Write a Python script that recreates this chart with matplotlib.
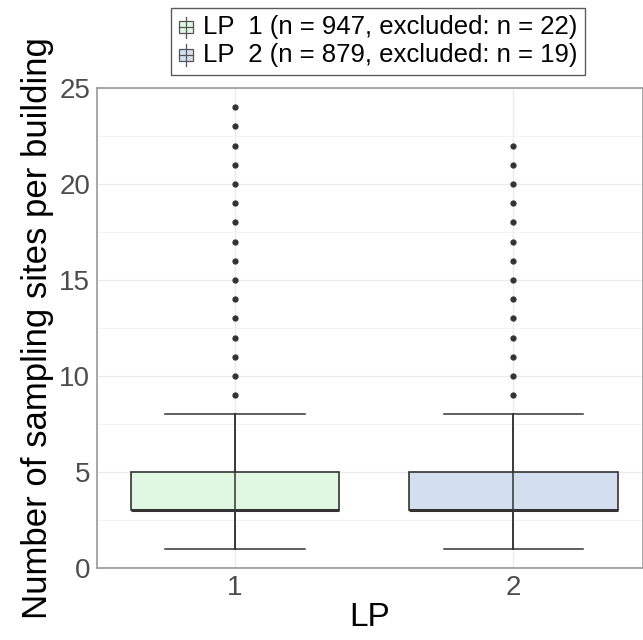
import numpy as np
import matplotlib
matplotlib.use("Agg")
from matplotlib import pyplot as plt
from matplotlib.patches import Patch, Rectangle
from matplotlib.lines import Line2D
from matplotlib.legend_handler import HandlerBase
from matplotlib.ticker import MultipleLocator

# values
groups = ["1", "2"]
legend_labels = ["LP  1 (n = 947, excluded: n = 22)", "LP  2 (n = 879, excluded: n = 19)"]
q1 = [3, 3]
med = [3, 3]
q3 = [5, 5]
whislo = [1, 1]
whishi = [8, 8]
fliers = [list(range(9, 25)), list(range(9, 23))]
fills = ["#e0f8e2", "#d3dfee"]


# small box-plot glyph for the legend keys
class BoxKey(HandlerBase):
    def create_artists(self, legend, orig, xd, yd, w, h, fs, trans):
        cx = xd + w / 2
        box = Rectangle((xd, yd + h * 0.15), w, h * 0.7, facecolor=orig.get_facecolor(),
                        edgecolor="#555555", lw=0.9, transform=trans)
        vl = Line2D([cx, cx], [yd - h * 0.15, yd + h * 1.15], color="#555555", lw=0.9, transform=trans)
        ml = Line2D([xd, xd + w], [yd + h * 0.5, yd + h * 0.5], color="#555555", lw=0.9, transform=trans)
        return [box, vl, ml]


plt.rcParams['font.family'] = ['Liberation Sans', 'DejaVu Sans']

fig = plt.figure(figsize=(6.43, 6.40), dpi=100)
ax = fig.add_axes([0.151, 0.1125, 0.849, 0.75])

stats = []
for i in range(len(groups)):
    stats.append(dict(med=med[i], q1=q1[i], q3=q3[i], whislo=whislo[i], whishi=whishi[i],
                      fliers=fliers[i], label=groups[i]))

pos = np.arange(1, len(groups) + 1)
bp = ax.bxp(stats, positions=pos, widths=0.75, patch_artist=True, showcaps=True,
            boxprops=dict(edgecolor="#333333", linewidth=1.2),
            medianprops=dict(color="#333333", linewidth=2.2),
            whiskerprops=dict(color="#333333", linewidth=1.1),
            capprops=dict(color="#333333", linewidth=1.1),
            capwidths=0.5,
            flierprops=dict(marker="o", markersize=3.5, markerfacecolor="#333333",
                            markeredgecolor="#333333"))
for patch, c in zip(bp["boxes"], fills):
    patch.set_facecolor(c)
    patch.set_zorder(2)
# whisker line goes through the box
for i, p in enumerate(pos):
    ax.plot([p, p], [whislo[i], whishi[i]], color="#333333", lw=1.1, zorder=3)

ax.set_xlim(0.505, 2.465)
ax.set_ylim(0, 25)
ax.yaxis.set_major_locator(MultipleLocator(5))
ax.yaxis.set_minor_locator(MultipleLocator(2.5))
ax.set_xticks(pos)
ax.set_xticklabels(groups)
ax.grid(True, which="major", color="#ebebeb", lw=1.0, zorder=0)
ax.grid(True, which="minor", axis="y", color="#f4f4f4", lw=0.8, zorder=0)
ax.set_axisbelow(True)
ax.tick_params(which="both", length=0, labelsize=20, labelcolor="#4d4d4d", pad=5)
for s in ax.spines.values():
    s.set_color("#a0a0a0")
    s.set_linewidth(1.3)

ax.set_ylabel("Number of sampling sites per building", fontsize=25, labelpad=4)
ax.set_xlabel("LP", fontsize=24, labelpad=1)

handles = [Patch(facecolor=c, edgecolor="#555555", linewidth=0.8) for c in fills]
leg = fig.legend(handles, legend_labels, loc="upper center", bbox_to_anchor=(0.588, 0.988),
                 fontsize=18.5, frameon=True, fancybox=False, edgecolor="#333333",
                 handlelength=0.55, handleheight=0.6, handletextpad=0.4,
                 borderpad=0.3, labelspacing=0.15, borderaxespad=0,
                 handler_map={Patch: BoxKey()})
leg.get_frame().set_linewidth(1.0)

fig.savefig("out.png", dpi=100)
